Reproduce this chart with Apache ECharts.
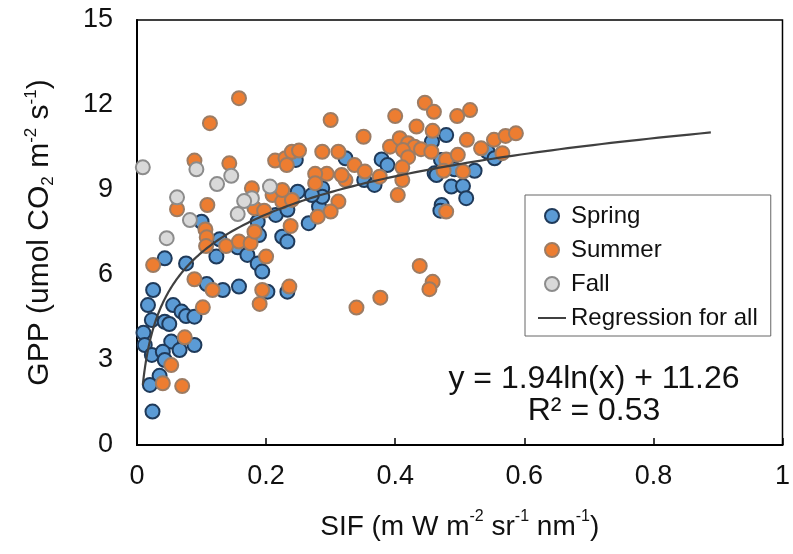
<!DOCTYPE html>
<html>
<head>
<meta charset="utf-8">
<script src="https://cdn.jsdelivr.net/npm/echarts@6/dist/echarts.min.js"></script>
<style>html,body{margin:0;padding:0;background:#fff}#c{width:793px;height:554px}</style>
</head>
<body>
<div id="c"></div>
<script>
// ---- Data ----
const springData = [
 [0.246,10.06],[0.249,8.94],[0.215,8.12],[0.233,8.30],[0.100,7.88],[0.128,7.26],[0.156,6.98],[0.171,6.71],
 [0.187,7.88],[0.189,7.41],[0.187,6.41],[0.194,6.12],[0.225,7.35],[0.233,7.18],[0.043,6.59],[0.076,6.41],
 [0.123,6.65],[0.108,5.68],[0.133,5.47],[0.158,5.59],[0.025,5.47],[0.202,5.41],[0.233,5.41],[0.017,4.94],
 [0.056,4.94],[0.069,4.71],[0.076,4.55],[0.089,4.53],[0.023,4.41],[0.043,4.35],[0.050,4.27],[0.010,3.96],
 [0.012,3.53],[0.053,3.65],[0.089,3.53],[0.066,3.35],[0.023,3.18],[0.040,3.29],[0.043,3.00],[0.035,2.44],
 [0.020,2.12],[0.024,1.18],[0.457,10.71],[0.479,10.94],[0.379,10.08],[0.388,9.88],[0.471,10.06],[0.461,9.59],
 [0.487,9.12],[0.472,8.47],[0.470,8.27],[0.323,10.12],[0.352,9.35],[0.368,9.18],[0.287,9.06],[0.282,8.41],
 [0.266,7.83],[0.287,8.76],[0.271,8.82],[0.543,10.35],[0.554,10.12],[0.464,9.53],[0.492,9.73],[0.523,9.68],
 [0.505,9.14],[0.510,8.71]
];
const summerData = [
 [0.089,10.04],[0.143,9.94],[0.214,10.04],[0.230,10.12],[0.240,10.35],[0.232,9.88],[0.178,9.06],[0.182,8.36],
 [0.197,8.27],[0.210,8.82],[0.225,8.59],[0.240,8.65],[0.062,8.32],[0.109,8.47],[0.106,7.61],[0.108,7.33],
 [0.107,7.02],[0.138,7.02],[0.158,7.18],[0.176,7.12],[0.182,7.53],[0.200,6.65],[0.238,7.73],[0.025,6.35],
 [0.089,5.85],[0.117,5.47],[0.194,5.47],[0.236,5.59],[0.190,4.98],[0.102,4.86],[0.074,3.80],[0.053,2.82],
 [0.040,2.18],[0.070,2.08],[0.300,11.47],[0.351,10.88],[0.400,11.61],[0.446,12.08],[0.460,11.76],[0.433,11.24],
 [0.458,11.09],[0.392,10.53],[0.407,10.83],[0.420,10.65],[0.430,10.53],[0.440,10.44],[0.456,10.35],[0.412,10.41],
 [0.420,10.16],[0.411,9.80],[0.411,9.35],[0.404,8.82],[0.479,10.08],[0.475,9.68],[0.479,8.24],[0.287,10.35],
 [0.312,10.35],[0.337,9.88],[0.353,9.65],[0.376,9.47],[0.323,9.35],[0.317,9.53],[0.294,9.57],[0.276,9.57],
 [0.276,9.24],[0.251,10.39],[0.225,9.00],[0.312,8.59],[0.300,8.24],[0.280,8.06],[0.496,11.61],[0.516,11.82],
 [0.511,10.77],[0.497,10.24],[0.533,10.47],[0.553,10.77],[0.571,10.91],[0.587,11.00],[0.566,10.30],[0.505,9.65],
 [0.438,6.32],[0.458,5.76],[0.453,5.50],[0.377,5.20],[0.340,4.85],[0.158,12.24],[0.113,11.36]
];
const fallData = [
 [0.009,9.80],[0.092,9.73],[0.146,9.50],[0.124,9.21],[0.206,9.12],[0.178,8.71],[0.166,8.61],[0.156,8.15],
 [0.062,8.74],[0.082,7.94],[0.046,7.30]
];
// Regression shown in the chart: y = 1.94 ln(x) + 11.26, drawn over x in [0.009, 0.889]
const regA = 1.94, regB = 11.26, regXMin = 0.009, regXMax = 0.889;
const xTicks = [0, 0.2, 0.4, 0.6, 0.8, 1];
const yTicks = [0, 3, 6, 9, 12, 15];

const regLine = [];
const N = 240;
for (let i = 0; i <= N; i++) {
  const t = i / N;
  const x = Math.exp(Math.log(regXMin) + (Math.log(regXMax) - Math.log(regXMin)) * t);
  regLine.push([x, regA * Math.log(x) + regB]);
}

const FONT = '"Liberation Sans", Arial, sans-serif';
const chart = echarts.init(document.getElementById('c'), null, {renderer: 'canvas'});
chart.setOption({
  animation: false,
  textStyle: {fontFamily: FONT},
  grid: {left: 137, right: 6, top: 20, bottom: 109, show: true, borderColor: '#000', borderWidth: 1.5, backgroundColor: 'transparent'},
  xAxis: {
    type: 'value', min: 0, max: 1, interval: 0.2,
    axisLine: {show: true, lineStyle: {color: '#000', width: 2}},
    axisTick: {show: true, inside: true, length: 7, lineStyle: {color: '#000', width: 1.5}},
    splitLine: {show: false},
    axisLabel: {fontSize: 27, color: '#111', margin: 18, fontFamily: FONT,
      formatter: v => { const m = xTicks.find(t => Math.abs(t - v) < 1e-9); return m === undefined ? '' : String(m); }},
    name: '{m|SIF (m W m}{sup|-2}{m| sr}{sup|-1}{m| nm}{sup|-1}{m|)}',
    nameLocation: 'middle', nameGap: 64,
    nameTextStyle: {rich: {
      m: {fontSize: 28, color: '#111', fontFamily: FONT, lineHeight: 32, verticalAlign: 'bottom'},
      sup: {fontSize: 16, color: '#111', fontFamily: FONT, lineHeight: 32, verticalAlign: 'top'}
    }}
  },
  yAxis: {
    type: 'value', min: 0, max: 15, interval: 3,
    axisLine: {show: true, lineStyle: {color: '#000', width: 2}},
    axisTick: {show: false},
    splitLine: {show: false},
    axisLabel: {fontSize: 27, color: '#111', margin: 24, fontFamily: FONT,
      formatter: v => { const m = yTicks.find(t => Math.abs(t - v) < 1e-9); return m === undefined ? '' : String(m); }},
    name: '{m|GPP (umol CO}{sub|2}{m| m}{sup|-2}{m| s}{sup|-1}{m|)}',
    nameLocation: 'middle', nameGap: 80, nameRotate: 90,
    nameTextStyle: {rich: {
      m: {fontSize: 30, color: '#111', fontFamily: FONT, lineHeight: 34},
      sup: {fontSize: 17, color: '#111', fontFamily: FONT, lineHeight: 34, verticalAlign: 'top'},
      sub: {fontSize: 17, color: '#111', fontFamily: FONT, lineHeight: 34, verticalAlign: 'bottom'}
    }}
  },
  legend: {
    left: 525, top: 195, orient: 'vertical',
    itemWidth: 28, itemHeight: 14, itemGap: 10,
    padding: [9, 13, 6, 13],
    borderColor: '#666', borderWidth: 1,
    backgroundColor: '#fff',
    textStyle: {fontSize: 24, color: '#111', fontFamily: FONT},
    data: [
      {name: 'Spring'}, {name: 'Summer'}, {name: 'Fall'},
      {name: 'Regression for all', icon: 'path://M0,0L28,0L28,2L0,2Z', itemStyle: {color: '#404040', borderWidth: 0}}
    ]
  },
  series: [
    {name: 'Spring', type: 'scatter', data: springData, symbol: 'circle', symbolSize: 14, clip: false,
     itemStyle: {color: '#5B9BD5', borderColor: '#1F3A5A', borderWidth: 2, opacity: 1}},
    {name: 'Summer', type: 'scatter', data: summerData, symbol: 'circle', symbolSize: 14, clip: false,
     itemStyle: {color: '#ED7D31', borderColor: '#9C7C64', borderWidth: 2, opacity: 1}},
    {name: 'Fall', type: 'scatter', data: fallData, symbol: 'circle', symbolSize: 14, clip: false,
     itemStyle: {color: '#D9D9D9', borderColor: '#8C8C8C', borderWidth: 2, opacity: 1}},
    {name: 'Regression for all', type: 'line', data: regLine, symbol: 'none', showSymbol: false, smooth: false,
     lineStyle: {color: '#404040', width: 2.2}, itemStyle: {color: '#404040'}, z: 5}
  ],
  graphic: [
    {type: 'text', x: 594, y: 379, z: 100,
     style: {text: 'y = 1.94ln(x) + 11.26', font: '32px ' + FONT, fill: '#111', textAlign: 'center', textVerticalAlign: 'middle'}},
    {type: 'text', x: 594, y: 411, z: 100,
     style: {text: 'R² = 0.53', font: '32px ' + FONT, fill: '#111', textAlign: 'center', textVerticalAlign: 'middle'}}
  ]
});
</script>
</body>
</html>
